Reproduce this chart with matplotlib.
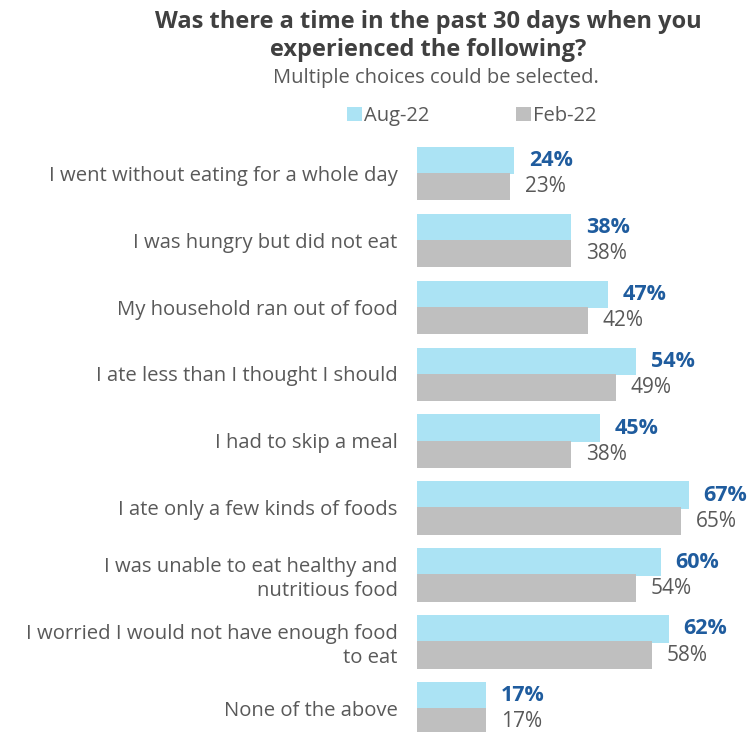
import matplotlib
matplotlib.use("Agg")
import matplotlib.pyplot as plt
import numpy as np

categories = [
    "I went without eating for a whole day",
    "I was hungry but did not eat",
    "My household ran out of food",
    "I ate less than I thought I should",
    "I had to skip a meal",
    "I ate only a few kinds of foods",
    "I was unable to eat healthy and\nnutritious food",
    "I worried I would not have enough food\nto eat",
    "None of the above",
]
aug22 = [24, 38, 47, 54, 45, 67, 60, 62, 17]
feb22 = [23, 38, 42, 49, 38, 65, 54, 58, 17]
series_names = ["Aug-22", "Feb-22"]

BLUE = "#ABE3F4"
GRAY = "#BFBFBF"
LABEL_BLUE = "#1F5C9E"
TEXT = "#595959"

plt.rcParams["font.family"] = ["Open Sans", "DejaVu Sans"]

fig = plt.figure(figsize=(7.56, 7.32), dpi=100)
ax = fig.add_axes([417 / 756, 0.0, 1 - 417 / 756, 1 - 133 / 732])

y = np.arange(len(categories))
h = 0.41
b1 = ax.barh(y - 0.19, aug22, height=h, color=BLUE, label=series_names[0], zorder=2)
b2 = ax.barh(y + 0.20, feb22, height=h, color=GRAY, label=series_names[1], zorder=3)

for yi, v in zip(y, aug22):
    ax.text(v + 3.6, yi - 0.19, f"{v}%", va="center", ha="left",
            fontsize=15.5, fontweight="bold", color=LABEL_BLUE)
for yi, v in zip(y, feb22):
    ax.text(v + 3.6, yi + 0.20, f"{v}%", va="center", ha="left",
            fontsize=15, color=TEXT)

ax.set_xlim(0, 83.5)
ax.set_ylim(8.35, -0.6)
ax.set_yticks(y)
ax.set_yticklabels(categories, fontsize=14.6, color=TEXT, linespacing=1.25)
ax.tick_params(axis="y", length=0, pad=14)
ax.set_xticks([])
for s in ax.spines.values():
    s.set_visible(False)

fig.text(0.567, 1 - 36 / 732, "Was there a time in the past 30 days when you\nexperienced the following?",
         ha="center", va="center", fontsize=17, fontweight="bold", color="#404040",
         linespacing=1.2)
fig.text(0.577, 1 - 78 / 732, "Multiple choices could be selected.",
         ha="center", va="center", fontsize=14.5, color=TEXT)

fig.legend(handles=[b1, b2], loc="center", bbox_to_anchor=(472 / 756, 1 - 116 / 732),
           ncol=2, frameon=False, fontsize=14.5, handlelength=0.75, handleheight=0.75,
           handletextpad=0.1, columnspacing=4.3, labelcolor=TEXT)

fig.savefig("out.png", dpi=100)
